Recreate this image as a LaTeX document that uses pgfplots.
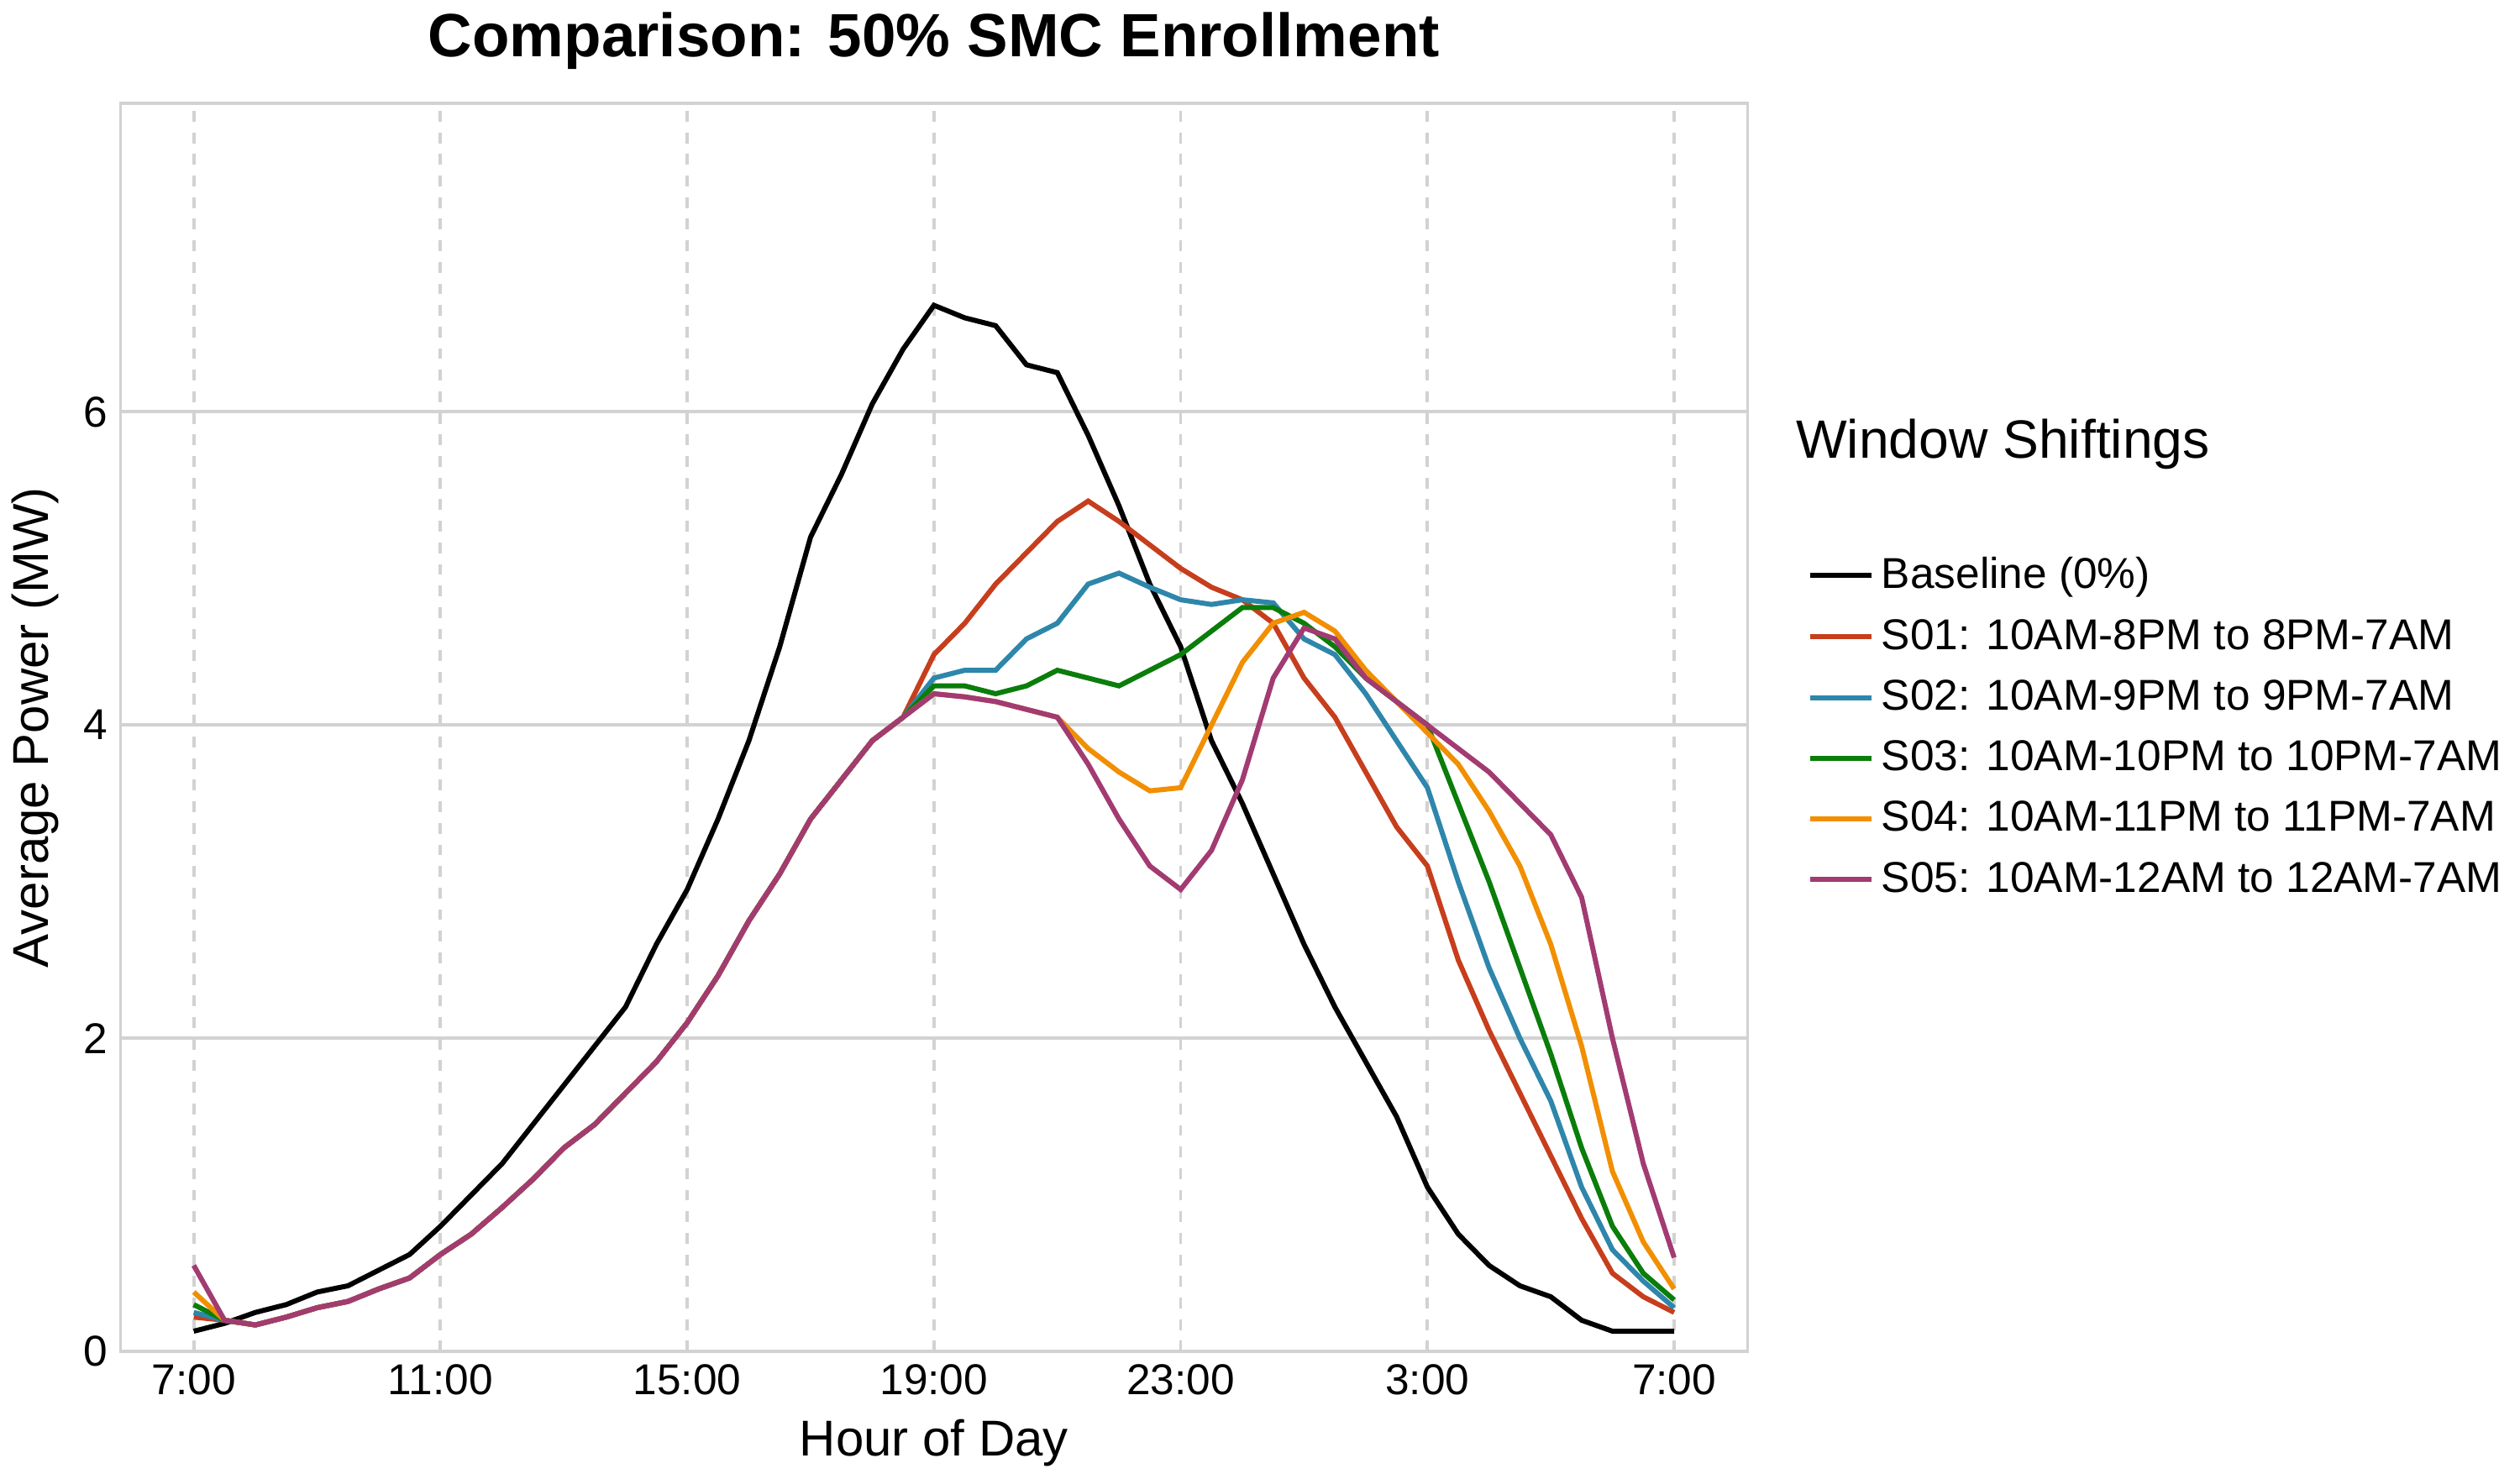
\documentclass[border=0pt]{standalone}
\usepackage{pgfplots}
\pgfplotsset{compat=1.18}
\usepackage{fontspec}
\setmainfont{Liberation Sans}
\definecolor{c1}{HTML}{C73E1D}
\definecolor{c2}{HTML}{2E86AB}
\definecolor{c3}{HTML}{0A7D0A}
\definecolor{c4}{HTML}{F18F01}
\definecolor{c5}{HTML}{A23B72}
\def\common{(0.5,0.2)(1,0.17)(1.5,0.22)(2,0.28)(2.5,0.32)(3,0.4)(3.5,0.47)(4,0.62)(4.5,0.75)(5,0.92)(5.5,1.1)(6,1.3)(6.5,1.45)(7,1.65)(7.5,1.85)(8,2.1)(8.5,2.4)(9,2.75)(9.5,3.05)(10,3.4)(10.5,3.65)(11,3.9)(11.5,4.05)}
\begin{document}
\begin{tikzpicture}
\begin{axis}[
  width=15.9cm, height=12.2cm, scale only axis, clip mode=individual,
  xmin=-1.19, xmax=25.19, ymin=0, ymax=7.97,
  xtick={0,4,8,12,16,20,24},
  xticklabels={7:00,11:00,15:00,19:00,23:00,3:00,7:00},
  ytick={0,2,4,6},
  tick style={draw=none},
  axis line style={draw=gray!35, line width=0.8pt},
  xmajorgrids, ymajorgrids,
  x grid style={gray!35, dashed, line width=0.9pt},
  y grid style={gray!35, line width=0.9pt},
  ticklabel style={font=\fontsize{12}{14}\selectfont},
  /pgf/number format/assume math mode=true,
  xlabel={Hour of Day}, ylabel={Average Power (MW)},
  label style={font=\fontsize{14}{16}\selectfont},
  title={\textbf{Comparison: 50\% SMC Enrollment}},
  title style={font=\fontsize{17}{19}\selectfont},
  legend style={at={(1.03,0.5)}, anchor=west, draw=none, fill=none,
    font=\fontsize{12}{14}\selectfont, row sep=3pt},
  legend cell align=left,
  every axis plot/.append style={line width=1.4pt},
]
\addplot[black] coordinates {(0,0.13)(0.5,0.18)(1,0.25)(1.5,0.3)(2,0.38)(2.5,0.42)(3,0.52)(3.5,0.62)(4,0.8)(4.5,1.0)(5,1.2)(5.5,1.45)(6,1.7)(6.5,1.95)(7,2.2)(7.5,2.6)(8,2.95)(8.5,3.4)(9,3.9)(9.5,4.5)(10,5.2)(10.5,5.6)(11,6.05)(11.5,6.4)(12,6.68)(12.5,6.6)(13,6.55)(13.5,6.3)(14,6.25)(14.5,5.85)(15,5.4)(15.5,4.9)(16,4.5)(16.5,3.9)(17,3.5)(17.5,3.05)(18,2.6)(18.5,2.2)(19,1.85)(19.5,1.5)(20,1.05)(20.5,0.75)(21,0.55)(21.5,0.42)(22,0.35)(22.5,0.2)(23,0.13)(24,0.13)};
\addlegendentry{Baseline (0\%)}
\addplot[c1] coordinates {(0,0.22)\common(12,4.45)(12.5,4.65)(13,4.9)(13.5,5.1)(14,5.3)(14.5,5.43)(15,5.3)(15.5,5.15)(16,5.0)(16.5,4.88)(17,4.8)(17.5,4.65)(18,4.3)(18.5,4.05)(19,3.7)(19.5,3.35)(20,3.1)(20.5,2.5)(21,2.05)(21.5,1.65)(22,1.25)(22.5,0.85)(23,0.5)(23.5,0.35)(24,0.25)};
\addlegendentry{S01: 10AM-8PM to 8PM-7AM}
\addplot[c2] coordinates {(0,0.25)\common(12,4.3)(12.5,4.35)(13,4.35)(13.5,4.55)(14,4.65)(14.5,4.9)(15,4.97)(15.5,4.88)(16,4.8)(16.5,4.77)(17,4.8)(17.5,4.78)(18,4.55)(18.5,4.45)(19,4.2)(19.5,3.9)(20,3.6)(20.5,3.0)(21,2.45)(21.5,2.0)(22,1.6)(22.5,1.05)(23,0.65)(23.5,0.45)(24,0.28)};
\addlegendentry{S02: 10AM-9PM to 9PM-7AM}
\addplot[c3] coordinates {(0,0.3)\common(12,4.25)(12.5,4.25)(13,4.2)(13.5,4.25)(14,4.35)(14.5,4.3)(15,4.25)(15.5,4.35)(16,4.45)(16.5,4.6)(17,4.75)(17.5,4.75)(18,4.65)(18.5,4.5)(19,4.3)(19.5,4.15)(20,4.0)(20.5,3.5)(21,3.0)(21.5,2.45)(22,1.9)(22.5,1.3)(23,0.8)(23.5,0.5)(24,0.33)};
\addlegendentry{S03: 10AM-10PM to 10PM-7AM}
\addplot[c4] coordinates {(0,0.38)\common(12,4.2)(12.5,4.18)(13,4.15)(13.5,4.1)(14,4.05)(14.5,3.85)(15,3.7)(15.5,3.58)(16,3.6)(16.5,4.0)(17,4.4)(17.5,4.65)(18,4.72)(18.5,4.6)(19,4.35)(19.5,4.15)(20,3.95)(20.5,3.75)(21,3.45)(21.5,3.1)(22,2.6)(22.5,1.95)(23,1.15)(23.5,0.7)(24,0.4)};
\addlegendentry{S04: 10AM-11PM to 11PM-7AM}
\addplot[c5] coordinates {(0,0.55)\common(12,4.2)(12.5,4.18)(13,4.15)(13.5,4.1)(14,4.05)(14.5,3.75)(15,3.4)(15.5,3.1)(16,2.95)(16.5,3.2)(17,3.65)(17.5,4.3)(18,4.62)(18.5,4.55)(19,4.3)(19.5,4.15)(20,4.0)(20.5,3.85)(21,3.7)(21.5,3.5)(22,3.3)(22.5,2.9)(23,2.0)(23.5,1.2)(24,0.6)};
\addlegendentry{S05: 10AM-12AM to 12AM-7AM}
\end{axis}
\node[anchor=south west, font=\fontsize{15}{17}\selectfont] at (16.25cm,8.5cm) {Window Shiftings};
\end{tikzpicture}
\end{document}
